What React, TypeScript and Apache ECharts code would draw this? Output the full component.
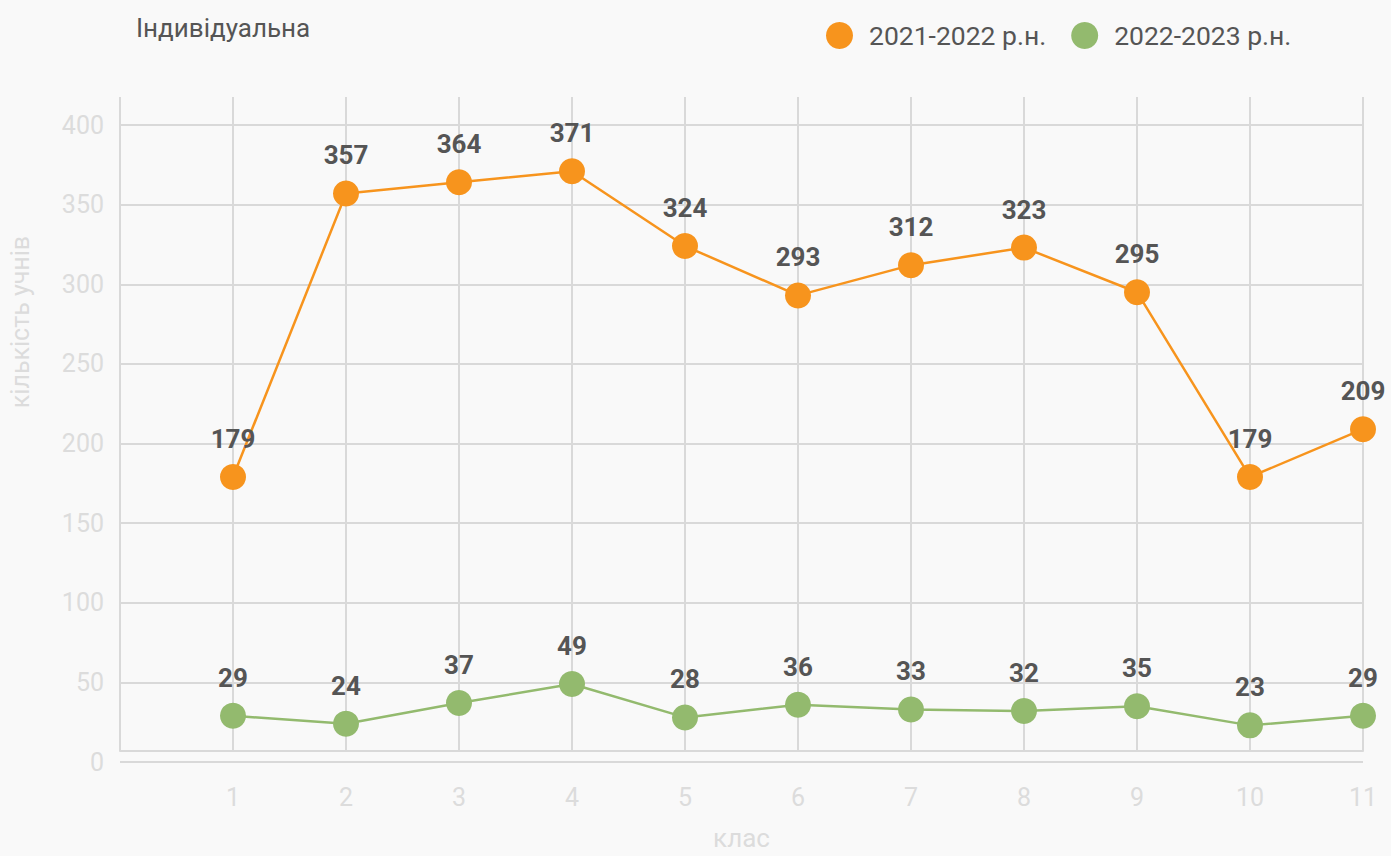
import React, { useEffect, useRef } from "react";
import * as echarts from "echarts";

const classes = [1, 2, 3, 4, 5, 6, 7, 8, 9, 10, 11];
const series2122 = [179, 357, 364, 371, 324, 293, 312, 323, 295, 179, 209];
const series2223 = [29, 24, 37, 49, 28, 36, 33, 32, 35, 23, 29];
const seriesNames = ["2021-2022 р.н.", "2022-2023 р.н."];
const yTicks = { min: 0, max: 400, interval: 50 };

const FONT = "Roboto, 'Noto Sans', sans-serif";
const GRID_LINE = "#d9d9d9";
const AXIS_TEXT = "#dcdcdc";
const ORANGE = "#f7941d";
const GREEN = "#93ba6e";

export default function App() {
  const ref = useRef<HTMLDivElement>(null);
  useEffect(() => {
    if (!ref.current) return;
    const chart = echarts.init(ref.current, null, { renderer: "svg" });
    const mk = (vals: number[]) => classes.map((c, i) => [c, vals[i]]);
    const labelStyle = {
      show: true,
      position: "top" as const,
      distance: 12,
      fontSize: 26,
      fontWeight: "bold" as const,
      color: "#555555",
      fontFamily: FONT,
    };
    chart.setOption({
      animation: false,
      backgroundColor: "#f9f9f9",
      textStyle: { fontFamily: FONT },
      title: {
        text: "Індивідуальна",
        left: 131,
        top: 10,
        textStyle: { color: "#555555", fontSize: 26, fontWeight: "normal", fontFamily: FONT },
      },
      legend: {
        left: 821,
        top: 17,
        itemWidth: 27,
        itemHeight: 27,
        itemGap: 25,
        icon: "circle",
        data: seriesNames,
        textStyle: { color: "#555555", fontSize: 26.5, fontFamily: FONT, padding: [0, 0, 0, 11] },
      },
      graphic: [
        {
          type: "text",
          x: 20,
          y: 322,
          rotation: Math.PI / 2,
          style: {
            text: "кількість учнів",
            fill: AXIS_TEXT,
            fontSize: 25,
            fontFamily: FONT,
            textAlign: "center",
            textVerticalAlign: "middle",
          },
        },
      ],
      grid: [
        { left: 120, right: 28, top: 97, bottom: 94 },
        { left: 120, right: 28, top: 125, bottom: 94 },
      ],
      xAxis: [
        {
          type: "value",
          gridIndex: 0,
          min: 0,
          max: 11,
          interval: 1,
          name: "клас",
          nameLocation: "middle",
          nameGap: 74,
          nameTextStyle: { color: AXIS_TEXT, fontSize: 26, fontFamily: FONT },
          axisLine: { show: true, lineStyle: { color: GRID_LINE, width: 2 } },
          axisTick: { show: false },
          splitLine: { show: true, lineStyle: { color: GRID_LINE, width: 2 } },
          axisLabel: {
            color: AXIS_TEXT,
            fontSize: 25,
            margin: 34,
            fontFamily: FONT,
            formatter: (v: number) => (v === 0 ? "" : String(v)),
          },
        },
        {
          type: "value",
          gridIndex: 1,
          min: 0,
          max: 11,
          interval: 1,
          show: false,
          splitLine: { show: false },
        },
      ],
      yAxis: [
        { type: "value", gridIndex: 0, min: 0, max: 1, show: false, splitLine: { show: false } },
        {
          type: "value",
          gridIndex: 1,
          min: yTicks.min,
          max: yTicks.max,
          interval: yTicks.interval,
          axisLine: { show: false },
          axisTick: { show: false },
          splitLine: { show: true, lineStyle: { color: GRID_LINE, width: 2 } },
          axisLabel: {
            color: AXIS_TEXT,
            fontSize: 25,
            margin: 16,
            fontFamily: FONT,
            padding: [0, 0, 9, 0],
          },
        },
      ],
      series: [
        {
          name: seriesNames[0],
          type: "line",
          xAxisIndex: 1,
          yAxisIndex: 1,
          data: mk(series2122),
          symbol: "circle",
          symbolSize: 26,
          itemStyle: { color: ORANGE },
          lineStyle: { color: ORANGE, width: 2.5 },
          label: labelStyle,
        },
        {
          name: seriesNames[1],
          type: "line",
          xAxisIndex: 1,
          yAxisIndex: 1,
          data: mk(series2223),
          symbol: "circle",
          symbolSize: 26,
          itemStyle: { color: GREEN },
          lineStyle: { color: GREEN, width: 2.5 },
          label: labelStyle,
        },
      ],
    });
    return () => chart.dispose();
  }, []);
  return (
    <div
      ref={ref}
      style={{ position: "absolute", left: 0, top: 0, width: 1391, height: 856 }}
    />
  );
}
